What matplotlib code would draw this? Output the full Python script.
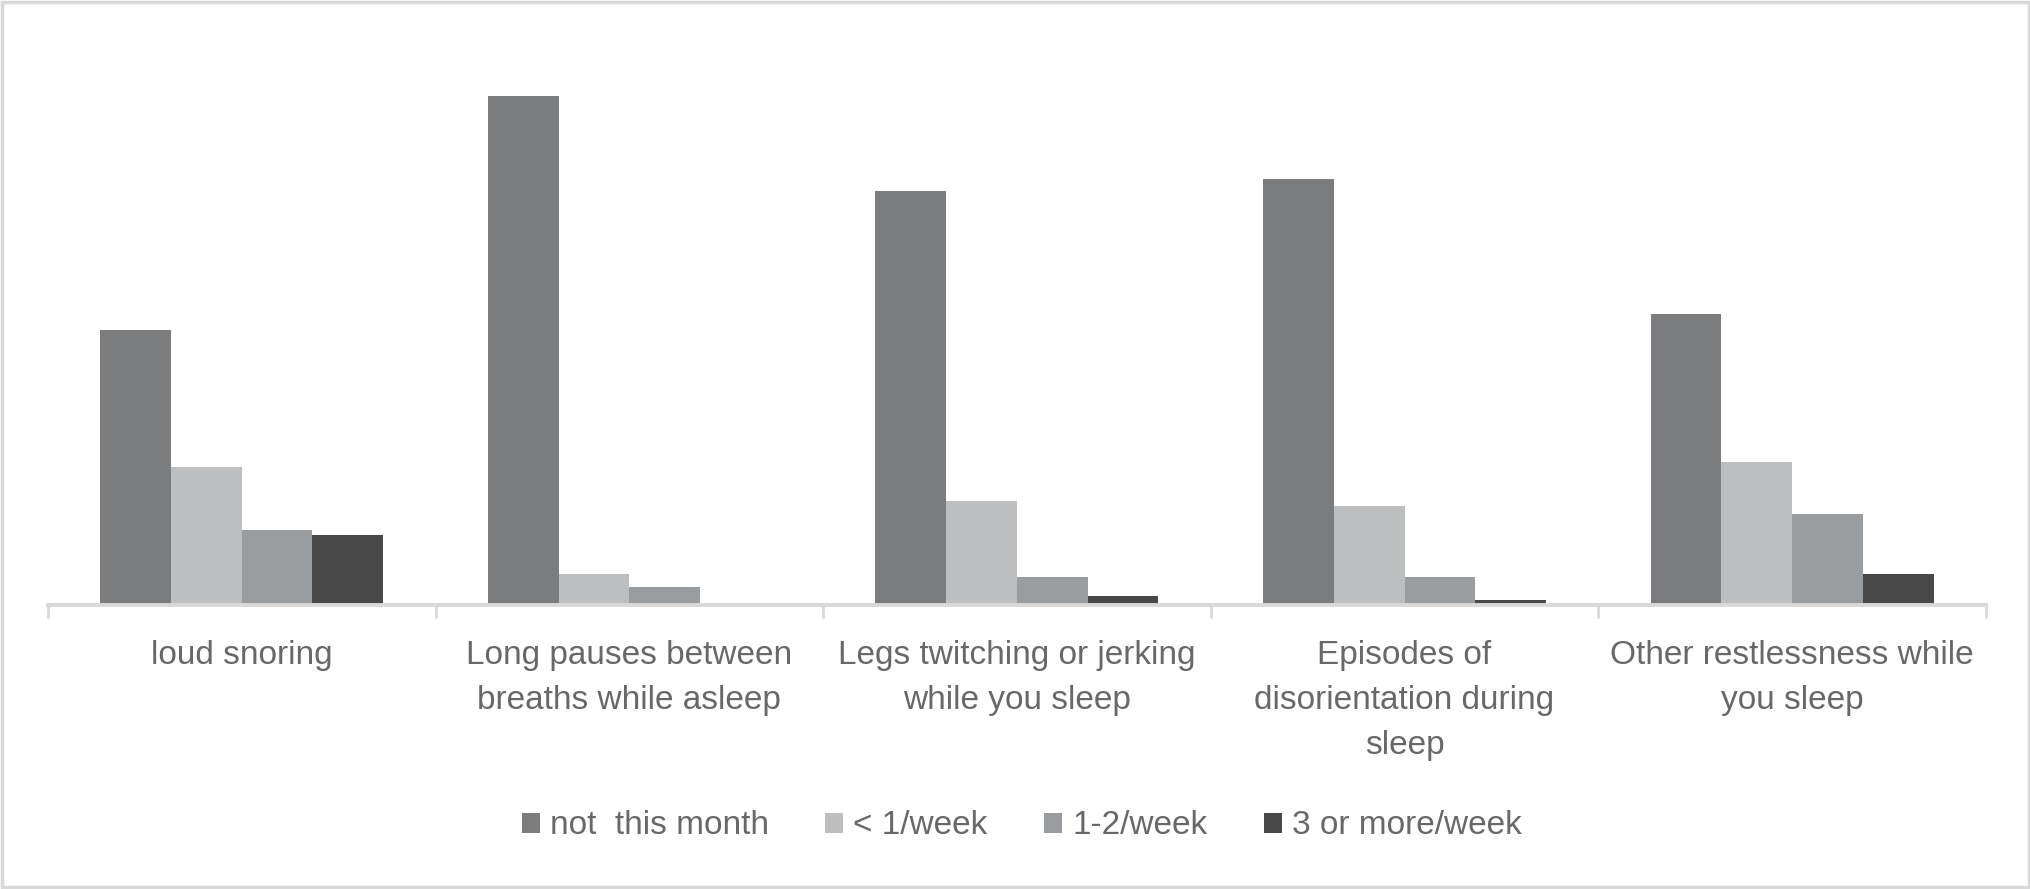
import numpy as np
import matplotlib.pyplot as plt
from matplotlib.patches import Rectangle

plt.rcParams['font.family'] = ['Liberation Sans Narrow', 'Liberation Sans', 'DejaVu Sans']

categories = ['loud snoring',
              'Long pauses between\nbreaths while asleep',
              'Legs twitching or jerking\nwhile you sleep',
              'Episodes of\ndisorientation during\nsleep',
              'Other restlessness while\nyou sleep']
series = ['not  this month', '< 1/week', '1-2/week', '3 or more/week']
not_this_month = [49.3, 91.4, 74.4, 76.5, 52.3]
less_1_week = [24.7, 5.6, 18.6, 17.7, 25.6]
one_two_week = [13.5, 3.3, 5.1, 5.1, 16.3]
three_more_week = [12.6, 0.0, 1.6, 0.9, 5.6]
values = [not_this_month, less_1_week, one_two_week, three_more_week]
colors = ['#7b7c7e', '#bdbec0', '#9a9d9f', '#484848']
text_color = '#686868'
grid_color = '#d9d9d9'

fig = plt.figure(figsize=(20.31, 8.89), dpi=100)
ax = fig.add_axes([0.0236, 0.3195, 0.9542, 0.6265])

x = np.arange(len(categories))
w = 0.1825
for i, (name, vals) in enumerate(zip(series, values)):
    ax.bar(x + (i - 1.5) * w, vals, width=w, color=colors[i], label=name)

ax.set_xlim(-0.5, len(categories) - 0.5)
ax.set_ylim(0, 100)
ax.set_yticks([])
for s in ['top', 'left', 'right']:
    ax.spines[s].set_visible(False)
ax.spines['bottom'].set_color(grid_color)
ax.spines['bottom'].set_linewidth(2.8)

ax.set_xticks(x)
labels = ax.set_xticklabels(categories, fontsize=24, color=text_color, va='top')
for t in labels:
    t.set_linespacing(1.6)
ax.tick_params(axis='x', which='major', length=0, pad=25)
ax.set_xticks(np.arange(-0.5, len(categories)), minor=True)
ax.tick_params(axis='x', which='minor', length=9, width=2, color=grid_color)

fig.legend(loc='center', bbox_to_anchor=(0.503, 0.071), ncol=4, frameon=False,
           fontsize=24, labelcolor=text_color, handlelength=0.54, handleheight=0.54,
           handletextpad=0.3, columnspacing=1.7)

fig.patches.append(Rectangle((0.001, 0.002), 0.998, 0.996, transform=fig.transFigure,
                             fill=False, edgecolor=grid_color, linewidth=2.5))

fig.savefig('out.png', dpi=100)
